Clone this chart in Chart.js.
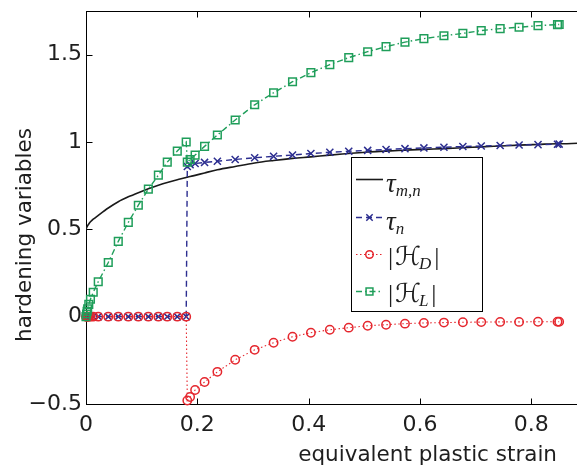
<!DOCTYPE html>
<html><head><meta charset="utf-8">
<script src="https://cdn.jsdelivr.net/npm/chart.js@4/dist/chart.umd.min.js"></script>
<style>
html,body{margin:0;padding:0;overflow:hidden;background:#fff;width:577px;height:468px}
#wrap{position:relative;width:600px;height:468px}
canvas{display:block}
</style>
</head><body><div id="wrap"><canvas id="c" width="600" height="468"></canvas></div>
<script>
// ---- data ----
const strain = [0, 0.001, 0.002, 0.003, 0.005, 0.008, 0.013, 0.022, 0.040, 0.058, 0.076, 0.094, 0.112, 0.130, 0.146, 0.164, 0.180,
  0.182, 0.187, 0.196, 0.213, 0.236, 0.268, 0.303, 0.337, 0.371, 0.404, 0.438, 0.472, 0.506, 0.539, 0.573, 0.607, 0.643, 0.677, 0.710, 0.744, 0.778, 0.812, 0.847, 0.850];
const tauN = [0,0,0,0,0,0,0,0,0,0,0,0,0,0,0,0,0,
  0.860, 0.870, 0.877, 0.883, 0.890, 0.900, 0.910, 0.918, 0.925, 0.934, 0.941, 0.947, 0.952, 0.957, 0.962, 0.966, 0.970, 0.974, 0.977, 0.980, 0.983, 0.985, 0.987, 0.988];
const hD = [0,0,0,0,0,0,0,0,0,0,0,0,0,0,0,0,0,
  -0.480, -0.460, -0.420, -0.374, -0.316, -0.247, -0.190, -0.149, -0.115, -0.092, -0.075, -0.063, -0.052, -0.046, -0.040, -0.036, -0.034, -0.032, -0.031, -0.030, -0.030, -0.029, -0.029, -0.029];
const hL = [0, 0.015, 0.030, 0.045, 0.070, 0.100, 0.140, 0.200, 0.310, 0.431, 0.540, 0.638, 0.730, 0.810, 0.885, 0.948, 1.000,
  0.885, 0.900, 0.925, 0.975, 1.040, 1.126, 1.213, 1.282, 1.345, 1.397, 1.443, 1.483, 1.517, 1.546, 1.572, 1.592, 1.608, 1.622, 1.638, 1.649, 1.657, 1.666, 1.672, 1.673];
const strainLine = [0, 0.001, 0.002, 0.003, 0.005, 0.008, 0.013, 0.022, 0.040, 0.058, 0.076, 0.094, 0.112, 0.130, 0.146, 0.164, 0.180,
  0.182, 0.187, 0.196, 0.213, 0.236, 0.268, 0.303, 0.337, 0.371, 0.404, 0.438, 0.472, 0.506, 0.539, 0.573, 0.607, 0.643, 0.677, 0.710, 0.744, 0.778, 0.812, 0.847, 0.850, 0.900];
const tauMN = [0.500, 0.508, 0.515, 0.521, 0.531, 0.543, 0.558, 0.580, 0.622, 0.658, 0.686, 0.710, 0.732, 0.752, 0.768, 0.784, 0.797,
  0.799, 0.802, 0.809, 0.823, 0.841, 0.860, 0.880, 0.894, 0.906, 0.915, 0.925, 0.934, 0.943, 0.948, 0.953, 0.958, 0.962, 0.967, 0.972, 0.977, 0.982, 0.986, 0.990, 0.990, 0.995];
const xTicks = [0, 0.2, 0.4, 0.6, 0.8];
const xTickLabels = ['0', '0.2', '0.4', '0.6', '0.8'];
const yTicks = [-0.5, 0, 0.5, 1, 1.5];
const yTickLabels = ['\u22120.5', '0', '0.5', '1', '1.5'];
const xTitle = 'equivalent plastic strain';
const yTitle = 'hardening variables';
const seriesLabels = [
  {pre:'', base:'\u03c4', sub:'m,n', post:''},
  {pre:'', base:'\u03c4', sub:'n', post:''},
  {pre:'|', base:'\u210b', sub:'D', post:'|'},
  {pre:'|', base:'\u210b', sub:'L', post:'|'}
];

// ---- styles ----
const C = {black:'#1a1a1a', blue:'#2c2e90', red:'#e5262d', green:'#1f9e5a', text:'#1e1e1e'};
const TRANSP = 'rgba(0,0,0,0)';
const pts = (xs, ys) => xs.map((x, i) => ({x, y: ys[i]}));

const dsStyles = [
  {color:C.black, dash:[], lw:1.6, ps:false},
  {color:C.blue, dash:[6,4], lw:1.4, ps:'crossRot', r:5},
  {color:C.red, dash:[1.5,2.5], lw:1.1, ps:'circle', r:4.2},
  {color:C.green, dash:[6,3,1.5,3], lw:1.4, ps:'rect', r:5.4}
];

const framePlugin = {
  id:'frame',
  beforeDatasetsDraw(chart){
    const {ctx, chartArea:a, scales:{x, y}} = chart;
    ctx.save();
    ctx.strokeStyle = '#000'; ctx.lineWidth = 1;
    const L = Math.round(a.left)+0.5, R = Math.round(a.right)+0.5, T = Math.round(a.top)+0.5, B = Math.round(a.bottom)+0.5;
    ctx.strokeRect(L, T, R-L, B-T);
    ctx.beginPath();
    xTicks.forEach(v => { const px = Math.round(x.getPixelForValue(v))+0.5; ctx.moveTo(px, B); ctx.lineTo(px, B-6); ctx.moveTo(px, T); ctx.lineTo(px, T+6); });
    yTicks.forEach(v => { const py = Math.round(y.getPixelForValue(v))+0.5; ctx.moveTo(L, py); ctx.lineTo(L+6, py); ctx.moveTo(R, py); ctx.lineTo(R-6, py); });
    ctx.stroke();
    ctx.restore();
  }
};

const titlePlugin = {
  id:'titles',
  afterDraw(chart){
    const ctx = chart.ctx;
    ctx.save();
    ctx.fillStyle = C.text;
    ctx.font = '21.5px "DejaVu Sans"';
    ctx.textAlign = 'right'; ctx.textBaseline = 'alphabetic';
    ctx.fillText(xTitle, 557, 461);
    ctx.translate(31, 235); ctx.rotate(-Math.PI/2);
    ctx.textAlign = 'center';
    ctx.fillText(yTitle, 0, 0);
    ctx.restore();
  }
};

const legendPlugin = {
  id:'mlegend',
  afterDraw(chart){
    const ctx = chart.ctx;
    ctx.save();
    ctx.fillStyle = '#fff'; ctx.fillRect(351.5, 157.5, 131, 154);
    ctx.strokeStyle = '#000'; ctx.lineWidth = 1; ctx.strokeRect(351.5, 157.5, 131, 154);
    const rows = [179, 217, 254, 291];
    const baseFonts = ['italic 27px "Liberation Serif"', 'italic 27px "Liberation Serif"', '26px "DejaVu Serif", "DejaVu Sans"', '26px "DejaVu Serif", "DejaVu Sans"'];
    seriesLabels.forEach((lab, i) => {
      const st = dsStyles[i], yy = rows[i];
      ctx.save();
      ctx.strokeStyle = st.color; ctx.lineWidth = st.lw; ctx.setLineDash(st.dash);
      ctx.beginPath(); ctx.moveTo(356, yy+0.5); ctx.lineTo(383, yy+0.5); ctx.stroke();
      ctx.setLineDash([]);
      if (st.ps) {
        ctx.fillStyle = TRANSP; ctx.lineWidth = 1.5;
        Chart.helpers.drawPoint(ctx, {pointStyle:st.ps, radius:st.r*0.9, borderWidth:1.5, rotation:0}, 369.5, yy+0.5);
      }
      ctx.restore();
      // text
      ctx.fillStyle = C.text; ctx.textAlign = 'left'; ctx.textBaseline = 'alphabetic';
      let x = 386; const base = yy + (i < 2 ? 13 : 11);
      if (lab.pre) { ctx.font = '26px "Liberation Serif"'; ctx.fillText(lab.pre, x+2, base); x += ctx.measureText(lab.pre).width + 4; }
      ctx.font = baseFonts[i]; ctx.fillText(lab.base, x, base); x += ctx.measureText(lab.base).width + (i < 2 ? 0 : -2);
      ctx.font = 'italic 17px "Liberation Serif"'; ctx.fillText(lab.sub, x, base + 4); x += ctx.measureText(lab.sub).width + 3;
      if (lab.post) { ctx.font = '26px "Liberation Serif"'; ctx.fillText(lab.post, x, base); }
    });
    ctx.restore();
  }
};

const mkDs = (i, xs, ys, extra) => {
  const st = dsStyles[i];
  return Object.assign({
    data: pts(xs, ys), showLine:true, borderColor:st.color, borderWidth:st.lw, borderDash:st.dash,
    pointStyle: st.ps || 'circle', pointRadius: st.ps ? st.r : 0, pointBorderWidth:1.5,
    pointBorderColor: st.color, pointBackgroundColor: TRANSP, clip:false, order: 4 - i
  }, extra || {});
};

new Chart(document.getElementById('c'), {
  type:'scatter',
  data:{ datasets:[
    mkDs(0, strainLine, tauMN, {cubicInterpolationMode:'monotone', clip:true}),
    mkDs(1, strain, tauN),
    mkDs(2, strain, hD),
    mkDs(3, strain, hL)
  ]},
  options:{
    responsive:false, animation:false, devicePixelRatio:1, events:[],
    layout:{padding:{left:0, top:11, right:13, bottom:0}},
    plugins:{legend:{display:false}, tooltip:{enabled:false}},
    scales:{
      x:{type:'linear', min:0, max:0.9,
        grid:{display:false, drawTicks:false}, border:{display:false},
        ticks:{includeBounds:false, padding:8, color:C.text, font:{family:'DejaVu Sans', size:22}, maxRotation:0,
          callback:(v) => { const k = xTicks.findIndex(t => Math.abs(t - v) < 1e-9); return k >= 0 ? xTickLabels[k] : ''; }},
        afterBuildTicks:(s) => { s.ticks = xTicks.map(v => ({value:v})); },
        afterFit:(s) => { s.height = 64; s.paddingLeft = 0; s.paddingRight = 0; }
      },
      y:{type:'linear', min:-0.5, max:1.75,
        grid:{display:false, drawTicks:false}, border:{display:false},
        ticks:{includeBounds:false, padding:4, color:C.text, font:{family:'DejaVu Sans', size:22},
          callback:(v) => { const k = yTicks.findIndex(t => Math.abs(t - v) < 1e-9); return k >= 0 ? yTickLabels[k] : ''; }},
        afterBuildTicks:(s) => { s.ticks = yTicks.map(v => ({value:v})); },
        afterFit:(s) => { s.width = 86; s.paddingTop = 0; s.paddingBottom = 0; }
      }
    }
  },
  plugins:[framePlugin, legendPlugin, titlePlugin]
});
</script>
</body></html>
